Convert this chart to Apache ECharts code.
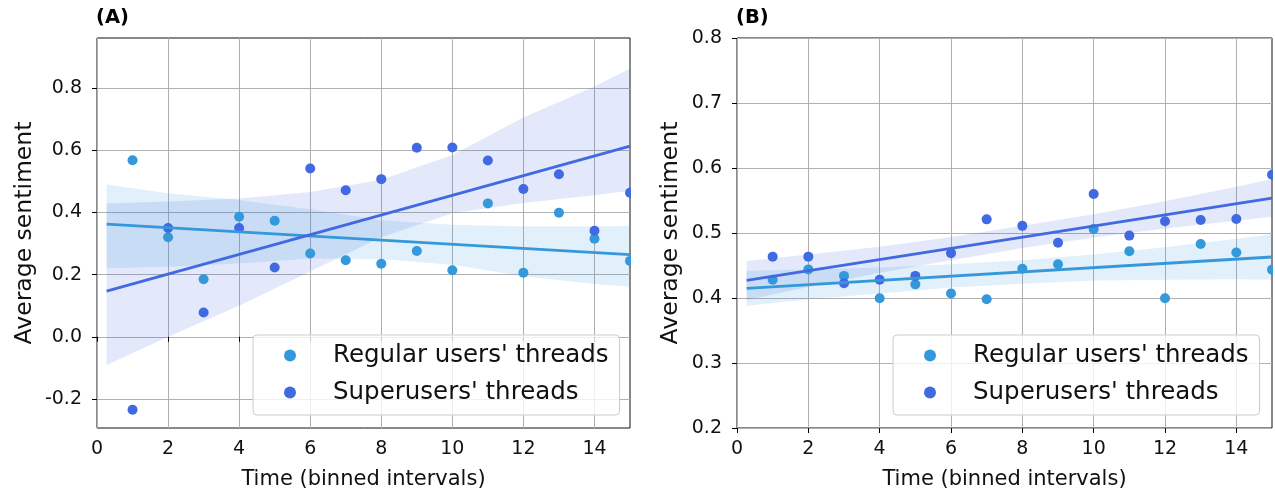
<!DOCTYPE html>
<html><head><meta charset="utf-8">
<script src="https://cdn.jsdelivr.net/npm/echarts@6/dist/echarts.min.js"></script>
<style>html,body{margin:0;padding:0;background:#fff}#c{width:1275px;height:496px}</style>
</head><body><div id="c"></div>
<script>
// ---- data ----
const timeBins = [1,2,3,4,5,6,7,8,9,10,11,12,13,14,15];
const regularA = [0.568,0.320,0.185,0.386,0.373,0.268,0.246,0.235,0.276,0.214,0.429,0.206,0.399,0.315,0.244];
const superA   = [-0.235,0.350,0.078,0.350,0.223,0.541,0.471,0.507,0.608,0.609,0.567,0.475,0.523,0.341,0.463];
const regularB = [0.428,0.444,0.434,0.3995,0.421,0.407,0.398,0.445,0.452,0.506,0.472,0.3995,0.483,0.470,0.4436];
const superB   = [0.4636,0.4636,0.4226,0.428,0.434,0.469,0.521,0.511,0.485,0.560,0.496,0.518,0.520,0.5215,0.5897];
// confidence bands
const bandX = [0.27,2,4,6,8,10,12,14,15];
const regularBandA_lo = [0.220,0.225,0.236,0.252,0.250,0.232,0.195,0.170,0.161];
const regularBandA_hi = [0.490,0.462,0.440,0.410,0.375,0.360,0.355,0.355,0.356];
const superBandA_lo   = [-0.091,0.000,0.100,0.210,0.320,0.397,0.430,0.455,0.470];
const superBandA_hi   = [0.429,0.435,0.445,0.466,0.505,0.585,0.705,0.805,0.863];
const regularBandB_lo = [0.388,0.398,0.407,0.416,0.422,0.427,0.428,0.429,0.428];
const regularBandB_hi = [0.442,0.444,0.447,0.452,0.458,0.467,0.478,0.491,0.498];
const superBandB_lo   = [0.397,0.417,0.439,0.458,0.477,0.493,0.507,0.519,0.525];
const superBandB_hi   = [0.457,0.467,0.479,0.494,0.511,0.529,0.549,0.571,0.583];
const xTicks  = [0,2,4,6,8,10,12,14];
const yTicksA = [-0.2,0,0.2,0.4,0.6,0.8];
const yTicksB = [0.2,0.3,0.4,0.5,0.6,0.7,0.8];
const fitRange = [0.27, 15];
const names = ["Regular users' threads", "Superusers' threads"];

const FONT = 'DejaVu Sans';
const C_REG = '#3498db', C_SUP = '#4169e1';
const F_REG = 'rgba(52,152,219,0.15)', F_SUP = 'rgba(65,105,225,0.15)';

function fitLine(xs, ys){
  const n = xs.length;
  const mx = xs.reduce((a,b)=>a+b,0)/n, my = ys.reduce((a,b)=>a+b,0)/n;
  let sxy=0, sxx=0;
  for(let i=0;i<n;i++){ sxy += (xs[i]-mx)*(ys[i]-my); sxx += (xs[i]-mx)*(xs[i]-mx); }
  const b = sxy/sxx, a = my - b*mx;
  return fitRange.map(x => [x, a + b*x]);
}
function pts(ys){ return timeBins.map((x,i)=>[x, ys[i]]); }

function bandSeries(gi, lo, hi, fill){
  return {
    type:'custom', xAxisIndex:gi, yAxisIndex:gi, z:1, silent:true,
    data:[[bandX[0], lo[0]]],
    renderItem:(params, api)=>{
      const p = [];
      for(let i=0;i<bandX.length;i++) p.push(api.coord([bandX[i], hi[i]]));
      for(let i=bandX.length-1;i>=0;i--) p.push(api.coord([bandX[i], lo[i]]));
      return {type:'polygon', shape:{points:p}, style:{fill:fill}};
    }
  };
}
function scatterSeries(gi, name, ys, color, z){
  return {type:'scatter', name:name, xAxisIndex:gi, yAxisIndex:gi, data:pts(ys),
    symbol:'circle', symbolSize:10, itemStyle:{color:color, opacity:1}, z:z, silent:true};
}
function lineSeries(gi, ys, color, z){
  return {type:'line', xAxisIndex:gi, yAxisIndex:gi, data:fitLine(timeBins, ys),
    showSymbol:false, symbol:'none', lineStyle:{color:color, width:2.8}, z:z, silent:true};
}

function xAxis(gi){
  return {type:'value', gridIndex:gi, min:0, max:15,
    name:'Time (binned intervals)', nameLocation:'middle', nameGap:41,
    nameTextStyle:{fontFamily:FONT, fontSize:21, color:'#111'},
    axisLine:{show:false},
    axisTick:{show:true, length:5, customValues:xTicks, lineStyle:{color:'#000'}},
    axisLabel:{customValues:xTicks, fontFamily:FONT, fontSize:19, color:'#111', margin:12},
    splitLine:{show:true, lineStyle:{color:'#b0b0b0', width:1}}};
}
function yAxis(gi, min, max, ticks, gap){
  return {type:'value', gridIndex:gi, min:min, max:max,
    name:'Average sentiment', nameLocation:'middle', nameGap:gap,
    nameTextStyle:{fontFamily:FONT, fontSize:23.5, color:'#111'},
    axisLine:{show:false},
    axisTick:{show:true, length:5, customValues:ticks, lineStyle:{color:'#000'}},
    axisLabel:{customValues:ticks, fontFamily:FONT, fontSize:19, color:'#111', margin:15,
      formatter:v=>Number(v).toFixed(1)},
    splitLine:{show:true, lineStyle:{color:'#b0b0b0', width:1}}};
}
function legend(left){
  return {left:left, top:335, orient:'vertical', data:names.map(n=>({name:n, icon:'circle'})),
    itemWidth:12, itemHeight:12, itemGap:10, selectedMode:false,
    backgroundColor:'rgba(255,255,255,0.8)', borderColor:'#cccccc', borderWidth:1, borderRadius:4,
    padding:[7,11,9,31],
    textStyle:{fontFamily:FONT, fontSize:24.5, color:'#111', lineHeight:27, padding:[0,0,0,32]}};
}

const chart = echarts.init(document.getElementById('c'), null, {renderer:'canvas'});
chart.setOption({
  animation:false,
  backgroundColor:'#fff',
  title:[
    {text:'(A)', left:96, top:8, padding:0, textStyle:{fontFamily:FONT, fontSize:19.5, fontWeight:'bold', color:'#000'}},
    {text:'(B)', left:736, top:8, padding:0, textStyle:{fontFamily:FONT, fontSize:19.5, fontWeight:'bold', color:'#000'}}
  ],
  grid:[
    {left:97, top:38, width:533, height:390, show:true, borderColor:'#111', borderWidth:1, backgroundColor:'transparent'},
    {left:737, top:38, width:535, height:390, show:true, borderColor:'#111', borderWidth:1, backgroundColor:'transparent'}
  ],
  xAxis:[xAxis(0), xAxis(1)],
  yAxis:[yAxis(0, -0.2935, 0.961, yTicksA, 60), yAxis(1, 0.2, 0.8, yTicksB, 54)],
  legend:[legend(253), legend(893)],
  // white masks so that points sitting on the right spine are cut like in the original
  graphic:[
    {type:'rect', z:100, silent:true, shape:{x:631, y:30, width:10, height:406}, style:{fill:'#fff'}},
    {type:'rect', z:100, silent:true, shape:{x:1273, y:30, width:10, height:406}, style:{fill:'#fff'}}
  ],
  series:[
    bandSeries(0, regularBandA_lo, regularBandA_hi, F_REG),
    bandSeries(0, superBandA_lo, superBandA_hi, F_SUP),
    scatterSeries(0, names[0], regularA, C_REG, 2),
    scatterSeries(0, names[1], superA, C_SUP, 2),
    lineSeries(0, regularA, C_REG, 3),
    lineSeries(0, superA, C_SUP, 3),
    bandSeries(1, regularBandB_lo, regularBandB_hi, F_REG),
    bandSeries(1, superBandB_lo, superBandB_hi, F_SUP),
    scatterSeries(1, names[0], regularB, C_REG, 2),
    scatterSeries(1, names[1], superB, C_SUP, 2),
    lineSeries(1, regularB, C_REG, 3),
    lineSeries(1, superB, C_SUP, 3)
  ]
});
</script></body></html>
